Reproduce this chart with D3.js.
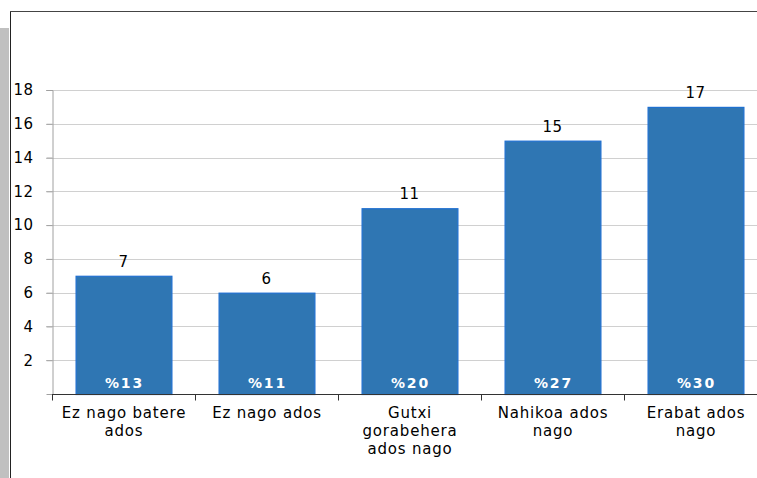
<!DOCTYPE html>
<html><head><meta charset="utf-8">
<script src="https://cdn.jsdelivr.net/npm/d3@7"></script>
<style>body{margin:0;background:#fff}svg{display:block}</style>
</head><body>
<script>
const categories = [["Ez nago batere","ados"],["Ez nago ados"],["Gutxi","gorabehera","ados nago"],["Nahikoa ados","nago"],["Erabat ados","nago"]];
const values = [7, 6, 11, 15, 17];
const percents = ["%13", "%11", "%20", "%27", "%30"];
const yTicks = [2, 4, 6, 8, 10, 12, 14, 16, 18];

const W = 757, H = 478;
const svg = d3.select("body").append("svg").attr("width", W).attr("height", H);
const font = "DejaVu Sans, Verdana, sans-serif";

// frame decorations
svg.append("rect").attr("x",0).attr("y",28).attr("width",9).attr("height",H-28).attr("fill","#c0c0c0");
svg.append("line").attr("x1",10.5).attr("x2",10.5).attr("y1",11).attr("y2",H).attr("stroke","#222");
svg.append("line").attr("x1",10).attr("x2",W).attr("y1",11.5).attr("y2",11.5).attr("stroke","#444");

const x = d3.scaleBand().domain(d3.range(values.length)).range([52, 767]).paddingInner(0.33).paddingOuter(0.165);
const y = d3.scaleLinear().domain([0, 18]).range([394, 90]);

// gridlines
svg.append("g").selectAll("line").data(yTicks).join("line")
  .attr("x1", 46).attr("x2", W).attr("y1", d => Math.round(y(d))+0.5).attr("y2", d => Math.round(y(d))+0.5)
  .attr("stroke", "#d0d0d0");

// y axis
const yAxis = svg.append("g").attr("transform","translate(52.5,0)")
  .call(d3.axisLeft(y).tickValues(yTicks).tickSize(6).tickPadding(13));
yAxis.select(".domain").attr("stroke","#a0a0a0");
yAxis.selectAll(".tick line").attr("stroke","#a0a0a0");
yAxis.selectAll("text").attr("font-family",font).attr("font-size",15).attr("letter-spacing",0.5).attr("fill","#000");

// bars
svg.append("g").selectAll("rect").data(values).join("rect")
  .attr("x", (d,i) => x(i)+0.5).attr("width", x.bandwidth())
  .attr("y", d => y(d)+0.5).attr("height", d => y(0)-y(d))
  .attr("fill", "#2f76b3").attr("stroke", "#1f6fd0").attr("stroke-width",1.2);

// x axis
const xa = svg.append("g").attr("transform","translate(0,394.5)");
xa.append("line").attr("x1",52).attr("x2",W).attr("stroke","#333");
const bounds = d3.range(values.length+1).map(i => 52 + i*x.step());
xa.selectAll("line.tk").data(bounds).join("line").attr("class","tk")
  .attr("x1", d => Math.round(d)+0.5).attr("x2", d => Math.round(d)+0.5).attr("y1",0).attr("y2",6).attr("stroke","#333");

// value labels
svg.append("g").selectAll("text").data(values).join("text")
  .attr("x", (d,i) => x(i)+x.bandwidth()/2).attr("y", d => y(d)-9)
  .attr("text-anchor","middle").attr("font-family",font).attr("font-size",15).attr("letter-spacing",0.5).attr("fill","#000")
  .text(d => d);

// percent labels
svg.append("g").selectAll("text").data(percents).join("text")
  .attr("x", (d,i) => x(i)+x.bandwidth()/2 + 1).attr("y", 388)
  .attr("text-anchor","middle").attr("font-family",font).attr("font-weight","bold").attr("font-size",14).attr("letter-spacing",1.8).attr("fill","#fff")
  .text(d => d);

// category labels
const cl = svg.append("g").selectAll("text").data(categories).join("text")
  .attr("text-anchor","middle").attr("font-family",font).attr("font-size",15).attr("letter-spacing",0.8).attr("fill","#000");
cl.each(function(lines, i){
  d3.select(this).selectAll("tspan").data(lines).join("tspan")
    .attr("x", x(i)+x.bandwidth()/2 + 0.5).attr("y", (d,j) => 418 + j*18).text(d => d);
});
</script>
</body></html>
